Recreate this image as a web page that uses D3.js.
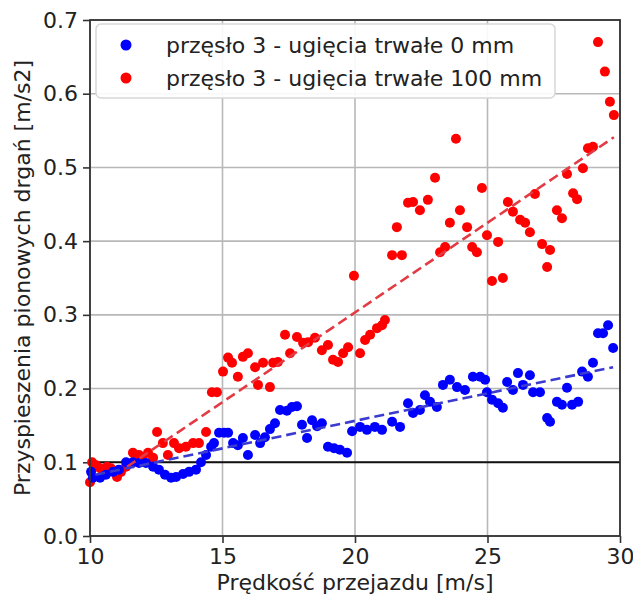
<!DOCTYPE html>
<html>
<head>
<meta charset="utf-8">
<script src="https://cdn.jsdelivr.net/npm/d3@7"></script>
<style>
  body { margin: 0; background: #fff; }
  text { font-family: "DejaVu Sans", sans-serif; fill: #222; }
</style>
</head>
<body>
<svg id="chart"></svg>
<script>
// data
const xTicks = [10, 15, 20, 25, 30];
const yTicks = [0.0, 0.1, 0.2, 0.3, 0.4, 0.5, 0.6, 0.7];
const seriesNames = ['przęsło 3 - ugięcia trwałe 0 mm', 'przęsło 3 - ugięcia trwałe 100 mm'];

const blueSpeed = [10.04, 10.11, 10.38, 10.60, 10.87, 11.09, 11.36, 11.62, 11.85, 12.11,
  12.38, 12.60, 12.83, 13.06, 13.25, 13.51, 13.74, 14.00, 14.19, 14.38,
  14.57, 14.68, 14.87, 15.06, 15.21, 15.40, 15.58, 15.77, 15.96, 16.23,
  16.42, 16.60, 16.79, 16.98, 17.17, 17.43, 17.62, 17.81, 18.00, 18.19,
  18.38, 18.57, 18.75, 18.98, 19.21, 19.43, 19.70, 19.89, 20.19, 20.45,
  20.75, 21.02, 21.40, 21.70, 22.00, 22.19, 22.45, 22.64, 22.83, 23.09,
  23.32, 23.58, 23.85, 24.15, 24.45, 24.72, 24.91, 24.98, 25.17, 25.40,
  25.58, 25.74, 25.96, 26.15, 26.34, 26.60, 26.72, 26.98, 27.25, 27.36,
  27.62, 27.81, 28.00, 28.19, 28.42, 28.57, 28.79, 28.98, 29.17, 29.36,
  29.55, 29.74];
const blueAccel = [0.087, 0.079, 0.079, 0.083, 0.087, 0.090, 0.100, 0.100, 0.099, 0.099,
  0.094, 0.090, 0.083, 0.079, 0.080, 0.084, 0.087, 0.090, 0.100, 0.110,
  0.121, 0.126, 0.140, 0.140, 0.140, 0.126, 0.123, 0.133, 0.110, 0.137,
  0.126, 0.134, 0.145, 0.153, 0.171, 0.170, 0.175, 0.176, 0.151, 0.133,
  0.157, 0.149, 0.153, 0.121, 0.119, 0.117, 0.113, 0.142, 0.148, 0.144,
  0.148, 0.144, 0.155, 0.148, 0.180, 0.167, 0.171, 0.191, 0.182, 0.175,
  0.205, 0.212, 0.202, 0.198, 0.216, 0.216, 0.212, 0.195, 0.185, 0.180,
  0.174, 0.209, 0.198, 0.221, 0.205, 0.218, 0.195, 0.195, 0.160, 0.155,
  0.182, 0.178, 0.201, 0.178, 0.182, 0.223, 0.216, 0.235, 0.275, 0.275,
  0.286, 0.255];

const redSpeed = [10.00, 10.08, 10.23, 10.38, 10.53, 10.64, 10.79, 11.02, 11.17, 11.36,
  11.62, 11.62, 11.85, 11.96, 12.19, 12.38, 12.53, 12.75, 12.94, 13.17,
  13.36, 13.62, 13.89, 14.11, 14.38, 14.60, 14.79, 15.02, 15.21, 15.36,
  15.58, 15.77, 15.96, 16.23, 16.34, 16.53, 16.79, 16.91, 17.09, 17.36,
  17.55, 17.81, 18.04, 18.23, 18.49, 18.75, 18.98, 19.17, 19.36, 19.55,
  19.74, 19.96, 20.19, 20.38, 20.57, 20.83, 21.02, 21.13, 21.40, 21.58,
  21.77, 22.00, 22.19, 22.45, 22.75, 23.02, 23.21, 23.40, 23.58, 23.81,
  23.96, 24.23, 24.42, 24.60, 24.79, 24.98, 25.17, 25.40, 25.58, 25.77,
  25.96, 26.23, 26.42, 26.60, 26.79, 27.06, 27.25, 27.36, 27.62, 27.81,
  28.00, 28.23, 28.38, 28.60, 28.79, 28.98, 29.17, 29.43, 29.62, 29.77];
const redAccel = [0.073, 0.100, 0.096, 0.092, 0.087, 0.094, 0.092, 0.080, 0.087, 0.094,
  0.113, 0.100, 0.110, 0.107, 0.113, 0.106, 0.141, 0.126, 0.110, 0.126,
  0.119, 0.121, 0.126, 0.126, 0.141, 0.195, 0.195, 0.223, 0.242, 0.235,
  0.216, 0.243, 0.248, 0.229, 0.205, 0.235, 0.202, 0.235, 0.236, 0.273,
  0.248, 0.270, 0.262, 0.263, 0.269, 0.252, 0.259, 0.239, 0.236, 0.248,
  0.256, 0.353, 0.248, 0.266, 0.273, 0.282, 0.286, 0.293, 0.381, 0.419,
  0.381, 0.452, 0.453, 0.442, 0.456, 0.486, 0.385, 0.392, 0.425, 0.539,
  0.442, 0.419, 0.392, 0.385, 0.472, 0.408, 0.346, 0.399, 0.350, 0.453,
  0.440, 0.429, 0.425, 0.412, 0.464, 0.396, 0.365, 0.388, 0.442, 0.431,
  0.491, 0.465, 0.457, 0.499, 0.526, 0.528, 0.670, 0.630, 0.589, 0.571];

// fitted trend lines (end points)
const blueTrendSpeed = [10.2, 29.74];
const blueTrendAccel = [0.083, 0.229];
const redTrendSpeed = [11.4, 29.77];
const redTrendAccel = [0.094, 0.541];

const limitValue = 0.1;

// layout
const margin = {top: 20, right: 13, bottom: 63, left: 90};
const width = 530;
const height = 516;

const svg = d3.select('#chart')
    .attr('width', 633)
    .attr('height', 599);

svg.append('rect').attr('width', 633).attr('height', 599).attr('fill', '#fff');

const g = svg.append('g')
    .attr('transform', 'translate(' + margin.left + ',' + margin.top + ')');

const x = d3.scaleLinear().domain([10, 30]).range([0, width]);
const y = d3.scaleLinear().domain([0, 0.7]).range([height, 0]);

// grid
g.append('g')
    .selectAll('line')
    .data(xTicks)
    .enter()
    .append('line')
    .attr('x1', d => x(d)).attr('x2', d => x(d))
    .attr('y1', 0).attr('y2', height)
    .attr('stroke', '#b8b8b8')
    .attr('stroke-width', 1.6);
g.append('g')
    .selectAll('line')
    .data(yTicks)
    .enter()
    .append('line')
    .attr('x1', 0).attr('x2', width)
    .attr('y1', d => y(d)).attr('y2', d => y(d))
    .attr('stroke', '#b8b8b8')
    .attr('stroke-width', 1.6);

// axes
const xAxis = g.append('g')
    .attr('transform', 'translate(0,' + height + ')')
    .call(d3.axisBottom(x).tickValues(xTicks).tickSize(7).tickPadding(5).tickFormat(d3.format('d')));
const yAxis = g.append('g')
    .call(d3.axisLeft(y).tickValues(yTicks).tickSize(7).tickPadding(5).tickFormat(d3.format('.1f')));
[xAxis, yAxis].forEach(function(a) {
  a.select('.domain').remove();
  a.selectAll('line').attr('stroke', '#333').attr('stroke-width', 1.6);
  a.selectAll('text').style('font-size', '22px').style('font-family', '"DejaVu Sans", sans-serif').attr('fill', '#222');
});

// horizontal limit line
g.append('line')
    .attr('x1', 0).attr('x2', width)
    .attr('y1', y(limitValue)).attr('y2', y(limitValue))
    .attr('stroke', '#111')
    .attr('stroke-width', 2);

// points
const red = redSpeed.map((s, i) => ({s: s, a: redAccel[i]}));
const blue = blueSpeed.map((s, i) => ({s: s, a: blueAccel[i]}));

g.append('g')
    .selectAll('circle')
    .data(red)
    .enter()
    .append('circle')
    .attr('cx', d => x(d.s))
    .attr('cy', d => y(d.a))
    .attr('r', 5)
    .attr('fill', '#ff0000');

g.append('g')
    .selectAll('circle')
    .data(blue)
    .enter()
    .append('circle')
    .attr('cx', d => x(d.s))
    .attr('cy', d => y(d.a))
    .attr('r', 5)
    .attr('fill', '#0000ff');

// trend lines
const line = d3.line().x(d => x(d[0])).y(d => y(d[1]));
g.append('path')
    .datum(d3.zip(redTrendSpeed, redTrendAccel))
    .attr('d', line)
    .attr('fill', 'none')
    .attr('stroke', '#e33a44')
    .attr('stroke-width', 2.6)
    .attr('stroke-dasharray', '10,5');
g.append('path')
    .datum(d3.zip(blueTrendSpeed, blueTrendAccel))
    .attr('d', line)
    .attr('fill', 'none')
    .attr('stroke', '#3b3bd0')
    .attr('stroke-width', 2.6)
    .attr('stroke-dasharray', '10,5');

// frame
g.append('rect')
    .attr('width', width)
    .attr('height', height)
    .attr('fill', 'none')
    .attr('stroke', '#333')
    .attr('stroke-width', 1.8);

// legend
const legend = svg.append('g');
legend.append('rect')
    .attr('x', 96).attr('y', 24)
    .attr('width', 459).attr('height', 74)
    .attr('rx', 5)
    .attr('fill', '#fff')
    .attr('fill-opacity', 0.9)
    .attr('stroke', '#d8d8d8')
    .attr('stroke-width', 1.5);
const legendColors = ['#0000ff', '#ff0000'];
seriesNames.forEach(function(name, i) {
  const cy = 45 + i * 33;
  legend.append('circle')
      .attr('cx', 126).attr('cy', cy).attr('r', 5.5)
      .attr('fill', legendColors[i]);
  legend.append('text')
      .attr('x', 166).attr('y', cy + 8)
      .style('font-size', '22px')
      .text(name);
});

// axis titles
svg.append('text')
    .attr('x', margin.left + width / 2)
    .attr('y', 590)
    .attr('text-anchor', 'middle')
    .style('font-size', '22px')
    .text('Prędkość przejazdu [m/s]');
svg.append('text')
    .attr('transform', 'translate(30,' + (margin.top + height / 2) + ') rotate(-90)')
    .attr('text-anchor', 'middle')
    .style('font-size', '22px')
    .text('Przyspieszenia pionowych drgań [m/s2]');
</script>
</body>
</html>
